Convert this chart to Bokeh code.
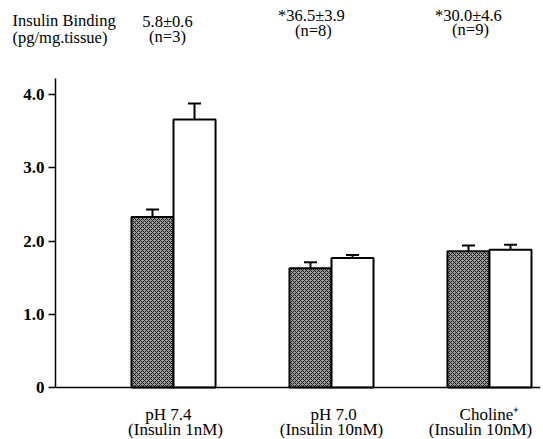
import numpy as np
from bokeh.plotting import figure
from bokeh.layouts import column
from bokeh.models import ColumnDataSource, Whisker, TeeHead, FixedTicker, Range1d
from bokeh.core.properties import value
from bokeh.embed import file_html
from bokeh.resources import INLINE

# ---- data ----
cat_line1 = ["pH 7.4", "pH 7.0", "Choline\u207a"]
cat_line2 = ["(Insulin 1nM)", "(Insulin 10nM)", "(Insulin 10nM)"]
dark_vals = [2.33, 1.63, 1.86]
dark_err = [0.10, 0.08, 0.08]
white_vals = [3.66, 1.77, 1.88]
white_err = [0.22, 0.04, 0.07]
header_title = ["Insulin Binding", "(pg/mg.tissue)"]
binding_vals = ["5.8\u00b10.6", "*36.5\u00b13.9", "*30.0\u00b14.6"]
binding_n = ["(n=3)", "(n=8)", "(n=9)"]
y_ticks = [0, 1, 2, 3, 4]
y_tick_labels = {0: "0", 1: "1.0", 2: "2.0", 3: "3.0", 4: "4.0"}

# ---- styling / layout constants ----
FONT = "Liberation Serif"
W = 543
centers = np.arange(1, len(cat_line1) + 1)
bw = 0.266
X_START_MAIN, X_END_MAIN = 0.253, 3.323
X_START_FULL, X_END_FULL = -0.095, 3.342

# ---- header ----
hdr = figure(width=W, height=60, output_backend="svg", toolbar_location=None,
             x_range=Range1d(X_START_FULL, X_END_FULL), y_range=Range1d(60, 0),
             min_border=0, min_border_left=0, min_border_right=0,
             min_border_top=0, min_border_bottom=0)
hdr.axis.visible = False
hdr.grid.visible = False
hdr.outline_line_color = None
hdr.text(x=[-0.019, -0.019], y=[20, 37], text=header_title,
         text_font=value(FONT), text_font_size="16.5px", text_align="left",
         text_baseline="alphabetic", text_color="black")
hdr.text(x=[0.962, 1.873, 2.867], y=[21, 15, 15], text=binding_vals,
         text_font=value(FONT), text_font_size="16.5px", text_align="center",
         text_baseline="alphabetic", text_color="black")
hdr.text(x=[0.962, 1.886, 2.880], y=[36, 30, 29], text=binding_n,
         text_font=value(FONT), text_font_size="16.5px", text_align="center",
         text_baseline="alphabetic", text_color="black")

# ---- main chart (frame extends below zero to hold category labels) ----
p = figure(width=W, height=379, output_backend="svg", toolbar_location=None,
           x_range=Range1d(X_START_MAIN, X_END_MAIN), y_range=Range1d(-0.710, 4.22),
           min_border_left=55, min_border_right=3, min_border_top=18, min_border_bottom=0)
p.outline_line_color = None
p.grid.visible = False

src_d = ColumnDataSource(dict(x=centers - bw / 2, top=dark_vals,
                              up=np.array(dark_vals) + np.array(dark_err)))
src_w = ColumnDataSource(dict(x=centers + bw / 2, top=white_vals,
                              up=np.array(white_vals) + np.array(white_err)))

for src in (src_d, src_w):
    p.add_layout(Whisker(source=src, base="x", upper="up", lower="top",
                         line_color="black", line_width=2,
                         upper_head=TeeHead(size=13, line_width=2, line_color="black"),
                         lower_head=None))

p.vbar(x="x", top="top", bottom=0, width=bw, source=src_d, fill_color="#9a9a9a",
       hatch_pattern="x", hatch_color="#1a1a1a", hatch_scale=4, hatch_weight=1,
       line_color="black", line_width=2)
p.vbar(x="x", top="top", bottom=0, width=bw, source=src_w, fill_color="white",
       line_color="black", line_width=2)

# category labels under the baseline
p.text(x=[0.968, 2.013, 3.0], y=[-0.369] * 3, text=cat_line1,
       text_font=value(FONT), text_font_size="17px", text_align="center",
       text_baseline="alphabetic", text_color="black")
p.text(x=[1.013, 2.0, 2.943], y=[-0.574] * 3, text=cat_line2,
       text_font=value(FONT), text_font_size="17px", text_align="center",
       text_baseline="alphabetic", text_color="black")

yax = p.yaxis[0]
yax.ticker = FixedTicker(ticks=y_ticks)
yax.major_label_overrides = y_tick_labels
yax.bounds = (0, 4.22)
yax.axis_line_width = 1.5
yax.major_tick_line_width = 1.5
yax.major_tick_out = 7
yax.major_tick_in = 0
yax.minor_tick_line_color = None
yax.major_label_text_font = FONT
yax.major_label_text_font_size = "17px"
yax.major_label_text_font_style = "bold"
yax.major_label_text_color = "black"
yax.major_label_standoff = 4

xax = p.xaxis[0]
xax.ticker = FixedTicker(ticks=[])
xax.fixed_location = 0
xax.axis_line_width = 1.5
xax.major_tick_line_color = None
xax.minor_tick_line_color = None
xax.major_label_standoff = 0

for f in (hdr, p):
    if "frame_align" in f.properties():
        f.frame_align = False

layout = column(hdr, p, spacing=0)
open("out.html", "w").write(file_html(layout, INLINE))
